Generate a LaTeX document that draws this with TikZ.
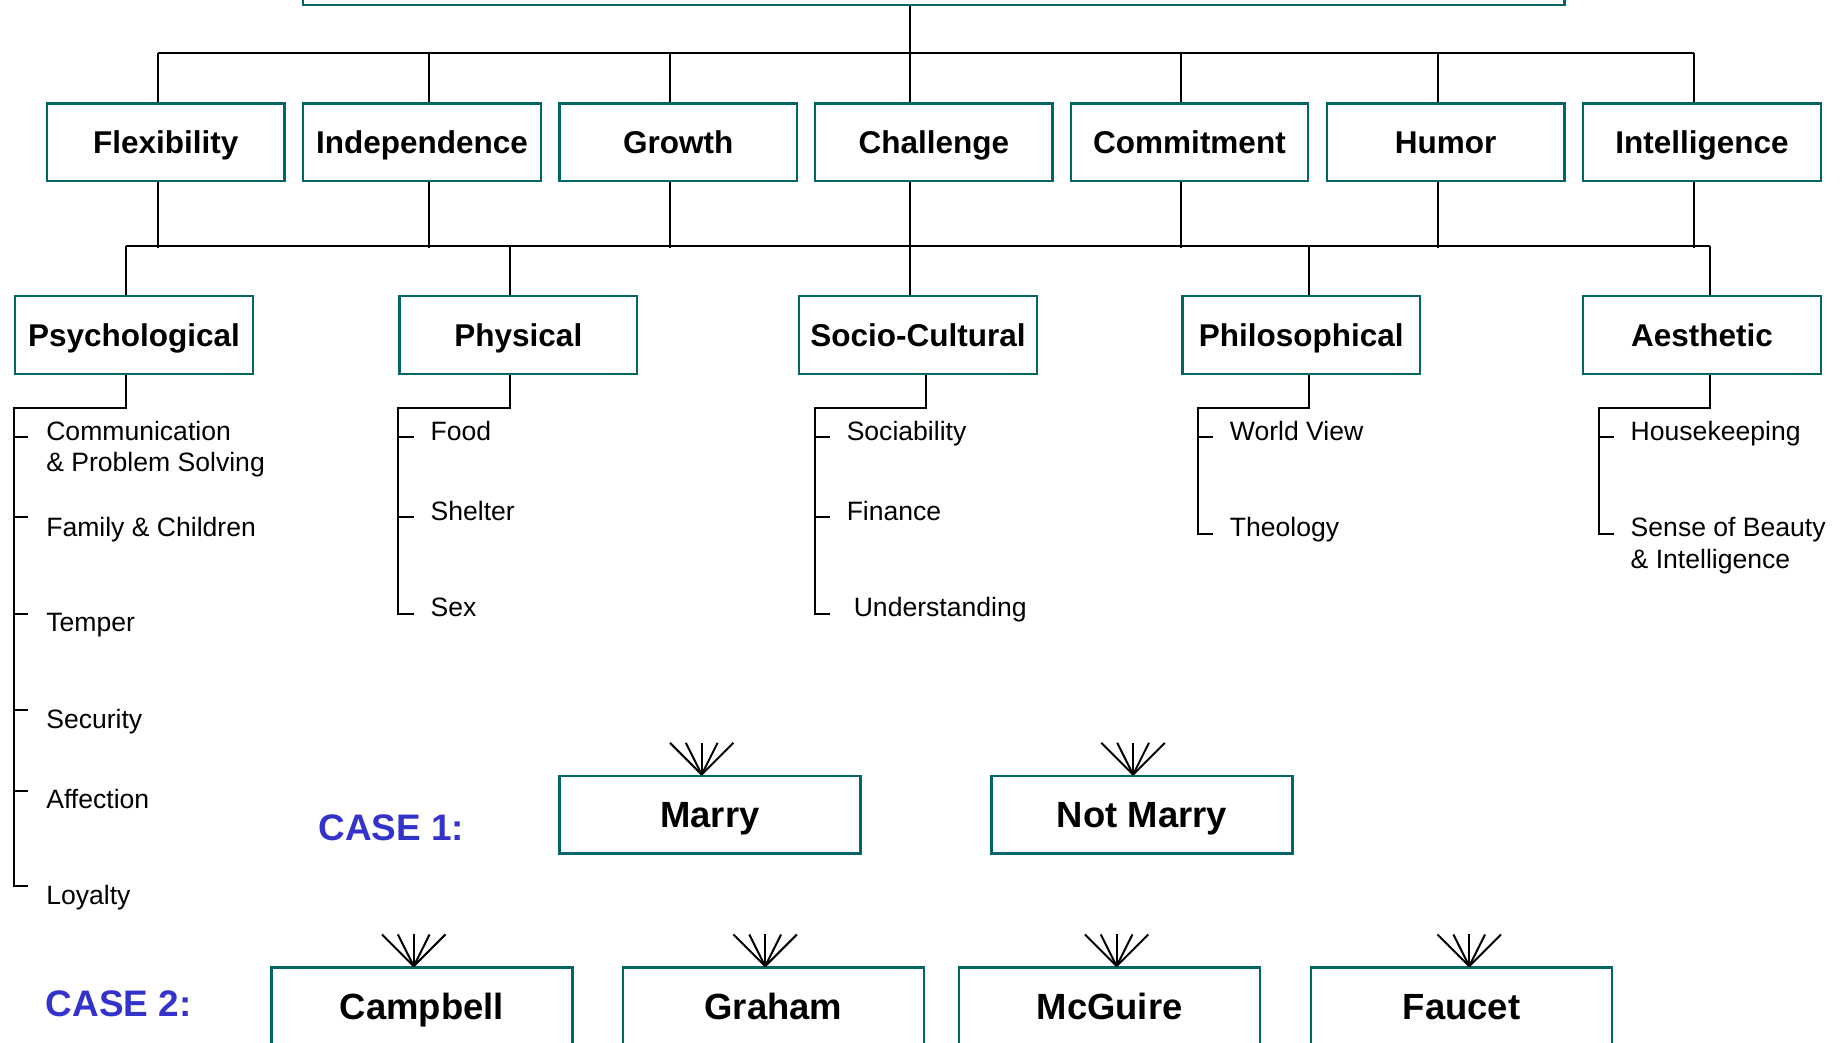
\documentclass[tikz,border=0pt]{standalone}
\usepackage{fontspec}
\setmainfont{Liberation Sans}
\usetikzlibrary{calc}
\definecolor{boxteal}{RGB}{0,102,102}
\definecolor{caseblue}{RGB}{51,51,204}
\newcommand\fanin[2]{\foreach \dx in {-27,-13.5,0,13.5,27}{\draw[wire] ($(#1)+(#2,0)$) -- ++(\dx,-27);}}

\begin{document}
\begin{tikzpicture}[x=0.5pt,y=-0.5pt,
	wire/.style={line width=0.85pt},
	catbox/.style={draw=boxteal,line width=1pt,minimum width=101pt,minimum height=33pt,inner sep=0pt,
		font=\fontsize{13.4}{16}\selectfont\bfseries,text height=9.6pt,text depth=0pt},
	casebox/.style={catbox,minimum width=128pt,font=\fontsize{15.5}{18}\selectfont\bfseries,text height=11.1pt},
	item/.style={anchor=base west,inner sep=0pt,align=left,font=\fontsize{11.3}{13.5}\selectfont},
	casetext/.style={text=caseblue,inner sep=0pt,font=\fontsize{15.7}{18}\selectfont\bfseries,text height=11.2pt,text depth=0pt}]
			%%%%% START %%%%%
			\useasboundingbox (0,0) rectangle (1568,887);
			\clip (0,0) rectangle (1568,887);
			
			\node[catbox,minimum width=536.5pt] (goal) at (794.5,-29) {};
			
			\node[catbox] (flex)   at (141,121)   {Flexibility};
			\node[catbox] (indep)  at (359,121)   {Independence};
			\node[catbox] (growth) at (577,121)   {Growth};
			\node[catbox] (chall)  at (794.5,121) {Challenge};
			\node[catbox] (commit) at (1012,121)  {Commitment};
			\node[catbox] (humor)  at (1230,121)  {Humor};
			\node[catbox] (intel)  at (1448,121)  {Intelligence};
			
			\node[catbox] (psych) at (114,285)  {Psychological};
			\node[catbox] (phys)  at (441,285)  {Physical};
			\node[catbox] (socio) at (781,285)  {Socio-Cultural};
			\node[catbox] (philo) at (1107,285) {Philosophical};
			\node[catbox] (aesth) at (1448,285) {Aesthetic};
			
			% top bus
			\draw[wire] ($(flex.north)+(-7,-42)$) -- ($(intel.north)+(-7,-42)$);
			\draw[wire] ($(goal.south)+(-20.5,0)$) -- ($(chall.north)+(-20.5,0)$);
			\foreach \n/\dx in {flex/-7,indep/6,growth/-7,commit/-7,humor/-7,intel/-7}
				\draw[wire] ($(\n.north)+(\dx,0)$) -- ++(0,-42);
			
			% middle bus
			\draw[wire] ($(psych.north)+(-7,-42)$) -- ($(aesth.north)+(7,-42)$);
			\foreach \n/\dx in {flex/-7,indep/6,growth/-7,chall/-20.5,commit/-7,humor/-7,intel/-7}
				\draw[wire] ($(\n.south)+(\dx,0)$) -- ++(0,56);
			\foreach \n/\dx in {psych/-7,phys/-7,socio/-7,philo/7,aesth/7}
				\draw[wire] ($(\n.north)+(\dx,0)$) -- ++(0,-42);
			
			% lists
			\draw[wire] ($(psych.south)+(-7,0)$) -- ++(0,28) -| (12,754) -- ++(12,0);
			\foreach \ty in {372,440,522,604,673} \draw[wire] (12,\ty) -- ++(12,0);
			\draw[wire] ($(phys.south)+(-7,0)$) -- ++(0,28) -| (339,522) -- ++(13,0);
			\foreach \ty in {372,440} \draw[wire] (339,\ty) -- ++(13,0);
			\draw[wire] ($(socio.south)+(7,0)$) -- ++(0,28) -| (693,522) -- ++(13,0);
			\foreach \ty in {372,440} \draw[wire] (693,\ty) -- ++(13,0);
			\draw[wire] ($(philo.south)+(7,0)$) -- ++(0,28) -| (1019,454) -- ++(13,0);
			\draw[wire] (1019,372) -- ++(13,0);
			\draw[wire] ($(aesth.south)+(7,0)$) -- ++(0,28) -| (1360,454) -- ++(13,0);
			\draw[wire] (1360,372) -- ++(13,0);
			
			\node[item] (comm)      at (39,401.5) {Communication\\\& Problem Solving};
			\node[item] (family)    at (39,456.5) {Family \& Children};
			\node[item] (temper)    at (39,537.5) {Temper};
			\node[item] (security)  at (39,619.5) {Security};
			\node[item] (affection) at (39,687.5) {Affection};
			\node[item] (loyalty)   at (39,769.5) {Loyalty};
			
			\node[item] (food)    at (366,374.5) {Food};
			\node[item] (shelter) at (366,442.5) {Shelter};
			\node[item] (sex)     at (366,524.5) {Sex};
			
			\node[item] (sociab)  at (720,374.5) {Sociability};
			\node[item] (finance) at (720,442.5) {Finance};
			\node[item] (underst) at (726,524.5) {Understanding};
			
			\node[item] (worldview) at (1046,374.5) {World View};
			\node[item] (theology)  at (1046,456.5) {Theology};
			
			\node[item] (housekeep) at (1387,374.5) {Housekeeping};
			\node[item] (beauty)    at (1387,483.5) {Sense of Beauty\\\& Intelligence};
			
			% cases
			\node[casetext] (case1) at (333,704) {CASE 1:};
			\node[casebox] (marry)    at (604,693)   {Marry};
			\node[casebox] (notmarry) at (971.5,693) {Not Marry};
			\fanin{marry.north}{-7}
			\fanin{notmarry.north}{-7.5}
			
			\node[casetext] (case2) at (101,854) {CASE 2:};
			\node[casebox] (campbell) at (359,856)    {Campbell};
			\node[casebox] (graham)   at (658,856)    {Graham};
			\node[casebox] (mcguire)  at (944,856)    {McGuire};
			\node[casebox] (faucet)   at (1243.5,856) {Faucet};
			\fanin{campbell.north}{-7}
			\fanin{graham.north}{-7}
			\fanin{mcguire.north}{6}
			\fanin{faucet.north}{6.5}
			%%%%% END %%%%%
\end{tikzpicture}
\end{document}
